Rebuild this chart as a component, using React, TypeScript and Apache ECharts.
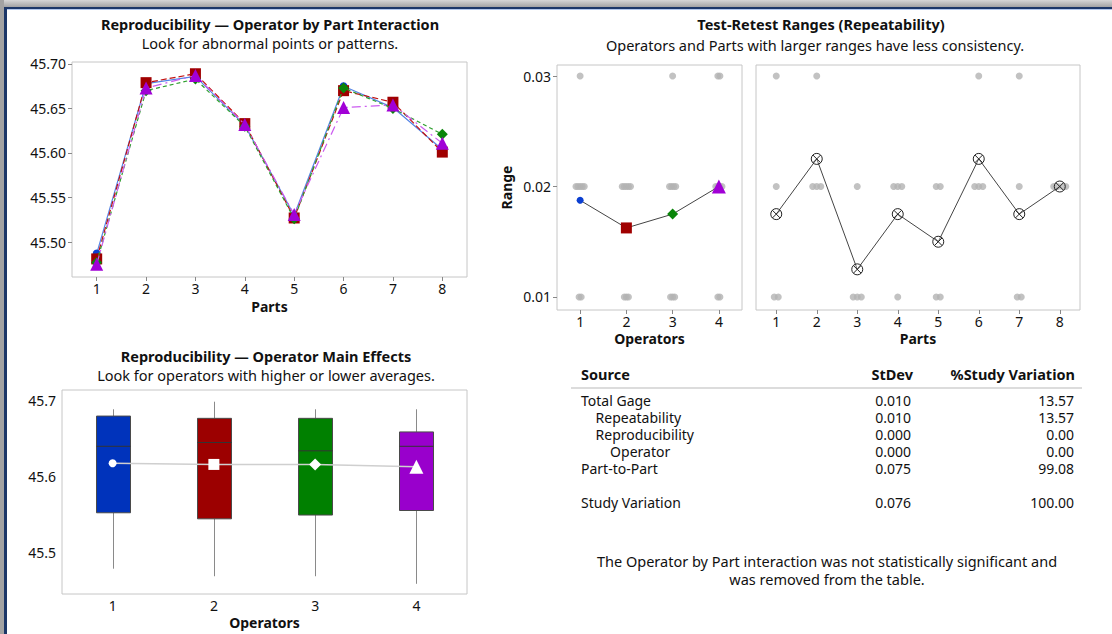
import React, { useEffect, useRef } from "react";
import * as echarts from "echarts";

// ---------- data ----------
const parts = [1, 2, 3, 4, 5, 6, 7, 8];
const operators = [1, 2, 3, 4];
const operatorLabels = ["1", "2", "3", "4"];

// Operator-by-part averages (interaction plot)
const op1PartMeans = [45.487, 45.678, 45.686, 45.631, 45.53, 45.675, 45.651, 45.604];
const op2PartMeans = [45.481, 45.679, 45.689, 45.633, 45.527, 45.67, 45.657, 45.601];
const op3PartMeans = [45.477, 45.67, 45.683, 45.63, 45.526, 45.673, 45.65, 45.621];
const op4PartMeans = [45.475, 45.673, 45.687, 45.632, 45.531, 45.651, 45.654, 45.611];

// Test-retest ranges, rows = operators, columns = parts
const op1Ranges = [0.01, 0.02, 0.01, 0.02, 0.02, 0.02, 0.03, 0.02];
const op2Ranges = [0.01, 0.02, 0.01, 0.02, 0.02, 0.02, 0.01, 0.02];
const op3Ranges = [0.03, 0.02, 0.01, 0.02, 0.01, 0.02, 0.01, 0.02];
const op4Ranges = [0.02, 0.03, 0.02, 0.01, 0.01, 0.03, 0.02, 0.02];
const operatorRangeMeans = [0.01875, 0.01625, 0.0175, 0.02];
const partRangeMeans = [0.0175, 0.0225, 0.0125, 0.0175, 0.015, 0.0225, 0.0175, 0.02];

// Operator main effects boxplots: [min, Q1, median, Q3, max]
const op1Box = [45.478, 45.552, 45.64, 45.68, 45.689];
const op2Box = [45.468, 45.544, 45.645, 45.677, 45.699];
const op3Box = [45.468, 45.549, 45.634, 45.677, 45.689];
const op4Box = [45.458, 45.555, 45.64, 45.659, 45.689];
const operatorMeans = [45.6175, 45.616, 45.616, 45.613];

// Tick labels
const interactionTicks = [45.5, 45.55, 45.6, 45.65, 45.7];
const rangeTicks = [0.01, 0.02, 0.03];
const boxTicks = [45.5, 45.6, 45.7];

// Variance components table ("" = blank spacer row)
const tableSources = ["Total Gage", "Repeatability", "Reproducibility", "Operator", "Part-to-Part", "", "Study Variation"];
const tableIndent = [0, 1, 1, 2, 0, 0, 0];
const tableStDev = ["0.010", "0.010", "0.000", "0.000", "0.075", "", "0.076"];
const tablePctStudy = ["13.57", "13.57", "0.00", "0.00", "99.08", "", "100.00"];
const footnote = ["The Operator by Part interaction was not statistically significant and", "was removed from the table."];

// ---------- styles ----------
const FONT = '"Noto Sans", "Open Sans", sans-serif';
const opColors = ["#0b3fd1", "#a00000", "#0a850a", "#a100d6"];
const opLineColors = ["#5585e6", "#c01010", "#2e9e2e", "#cc5cf0"];
const opSymbols = ["circle", "rect", "diamond", "triangle"];
const opSymbolSizes = [8, 11, 11, 13];
const opLineTypes: any[] = ["solid", [6, 3], [4, 3], [9, 4, 2, 4]];
const boxColors = ["#0033bb", "#9c0000", "#008000", "#9900cc"];
const GRAY_DOT = "#b3b3b3";
const XCIRCLE = "path://M10,0 A10,10 0 1,1 10,20 A10,10 0 1,1 10,0 Z M3,3 L17,17 M17,3 L3,17";
const NBSP = "\u00A0";

function jitter(groups: number[][], step: number) {
  const pts: number[][] = [];
  groups.forEach((vals, gi) => {
    const counts: Record<string, number> = {};
    vals.forEach((v) => (counts[v.toFixed(3)] = (counts[v.toFixed(3)] || 0) + 1));
    const seen: Record<string, number> = {};
    vals.forEach((v) => {
      const k = v.toFixed(3);
      const i = seen[k] || 0;
      seen[k] = i + 1;
      pts.push([gi + 1 + (i - (counts[k] - 1) / 2) * step, v]);
    });
  });
  return pts;
}

export default function App() {
  const ref = useRef<HTMLDivElement>(null);
  useEffect(() => {
    if (!ref.current) return;
    const chart = echarts.init(ref.current, null, { renderer: "svg" });
    const allOpMeans = [op1PartMeans, op2PartMeans, op3PartMeans, op4PartMeans];
    const rangeRows = [op1Ranges, op2Ranges, op3Ranges, op4Ranges];
    const byOperator = rangeRows;
    const byPart = parts.map((_, pi) => rangeRows.map((r) => r[pi]));
    const boxes = [op1Box, op2Box, op3Box, op4Box];

    const axisLabelBase = { fontSize: 14, color: "#111", fontFamily: FONT };
    const nameStyle = { fontSize: 14, fontWeight: "bold" as const, color: "#111", fontFamily: FONT };
    const tick = { length: 4, lineStyle: { color: "#888" } };
    const gridBase = { show: true, borderColor: "#c6c6c6", borderWidth: 1, backgroundColor: "#fff", containLabel: false };

    const text = (t: string, x: number, y: number, opts: any = {}) => ({
      type: "text",
      x,
      y,
      silent: true,
      style: {
        text: t,
        font: `${opts.bold ? "bold " : ""}${opts.size || 14.5}px ${FONT}`,
        fill: "#111",
        align: opts.align || "center",
        verticalAlign: opts.valign || "middle",
        lineHeight: opts.lh || 17,
      },
    });

    const ROW_H = 17;
    const firstRowY = 400;
    const tableTop = firstRowY - ROW_H / 2;
    const sourceCol = tableSources
      .map((s, i) => (s ? NBSP.repeat(tableIndent[i] * 4) + s : ""))
      .join("\n");

    const graphics: any[] = [
      { type: "rect", shape: { x: 0, y: 0, width: 1112, height: 7 }, style: { fill: new echarts.graphic.LinearGradient(0, 0, 0, 1, [{ offset: 0, color: "#d6d6d6" }, { offset: 1, color: "#a3a3a3" }]) }, silent: true },
      { type: "rect", shape: { x: 0, y: 7, width: 1112, height: 2 }, style: { fill: "#1c3768" }, silent: true },
      { type: "rect", shape: { x: 0, y: 9, width: 1112, height: 1 }, style: { fill: "#b3c8ec" }, silent: true },
      { type: "rect", shape: { x: 0, y: 0, width: 4, height: 634 }, style: { fill: "#a3a3a3" }, silent: true },
      { type: "rect", shape: { x: 4, y: 7, width: 3, height: 627 }, style: { fill: "#1c3768" }, silent: true },
      text("Reproducibility \u2014 Operator by Part Interaction", 270, 24, { bold: true, size: 14.5 }),
      text("Look for abnormal points or patterns.", 270, 43),
      text("Test-Retest Ranges (Repeatability)", 821, 24, { bold: true, size: 14.5 }),
      text("Operators and Parts with larger ranges have less consistency.", 815, 45),
      text("Reproducibility \u2014 Operator Main Effects", 266, 356, { bold: true, size: 14.5 }),
      text("Look for operators with higher or lower averages.", 266, 375),
      text("Source", 581, 374, { bold: true, align: "left", size: 14.5 }),
      text("StDev", 913, 374, { bold: true, align: "right", size: 14.5 }),
      text("%Study Variation", 1075, 374, { bold: true, align: "right", size: 14.5 }),
      { type: "line", shape: { x1: 571, y1: 388, x2: 1082, y2: 388 }, style: { stroke: "#d0d0d0", lineWidth: 1.5 }, silent: true },
      text(sourceCol, 581, tableTop, { align: "left", valign: "top", size: 14, lh: ROW_H }),
      text(tableStDev.join("\n"), 911, tableTop, { align: "right", valign: "top", size: 14, lh: ROW_H }),
      text(tablePctStudy.join("\n"), 1074, tableTop, { align: "right", valign: "top", size: 14, lh: ROW_H }),
      text(footnote.join("\n"), 827, 552, { valign: "top", size: 14.5, lh: 18 }),
    ];

    const series: any[] = [];
    allOpMeans.forEach((arr, oi) => {
      series.push({
        type: "line",
        xAxisIndex: 0,
        yAxisIndex: 0,
        data: parts.map((p, i) => [p, arr[i]]),
        symbol: opSymbols[oi],
        symbolSize: opSymbolSizes[oi],
        itemStyle: { color: opColors[oi] },
        lineStyle: { color: opLineColors[oi], width: 1.2, type: opLineTypes[oi] },
        z: 3 + oi,
        silent: true,
      });
    });
    series.push({
      type: "scatter",
      xAxisIndex: 1,
      yAxisIndex: 1,
      data: jitter(byOperator, 0.045),
      symbolSize: 7,
      itemStyle: { color: GRAY_DOT },
      z: 2,
      silent: true,
    });
    series.push({
      type: "line",
      xAxisIndex: 1,
      yAxisIndex: 1,
      data: operators.map((o, i) => ({
        value: [o, operatorRangeMeans[i]],
        symbol: opSymbols[i],
        symbolSize: [7, 11, 11, 14][i],
        itemStyle: { color: opColors[i] },
      })),
      lineStyle: { color: "#444", width: 1 },
      z: 4,
      silent: true,
    });
    series.push({
      type: "scatter",
      xAxisIndex: 2,
      yAxisIndex: 2,
      data: jitter(byPart, 0.1),
      symbolSize: 7,
      itemStyle: { color: GRAY_DOT },
      z: 2,
      silent: true,
    });
    series.push({
      type: "line",
      xAxisIndex: 2,
      yAxisIndex: 2,
      data: parts.map((p, i) => [p, partRangeMeans[i]]),
      symbol: XCIRCLE,
      symbolSize: 11,
      symbolKeepAspect: true,
      itemStyle: { color: "rgba(255,255,255,0.2)", borderColor: "#222", borderWidth: 1 },
      lineStyle: { color: "#444", width: 1 },
      z: 4,
      silent: true,
    });
    series.push({
      type: "custom",
      xAxisIndex: 3,
      yAxisIndex: 3,
      data: boxes.map((b, i) => [i, ...b]),
      encode: { x: 0, y: [1, 2, 3, 4, 5] },
      silent: true,
      z: 2,
      renderItem: (params: any, api: any) => {
        const x = api.value(0);
        const pMin = api.coord([x, api.value(1)]);
        const pQ1 = api.coord([x, api.value(2)]);
        const pMed = api.coord([x, api.value(3)]);
        const pQ3 = api.coord([x, api.value(4)]);
        const pMax = api.coord([x, api.value(5)]);
        const half = 17;
        const cx = Math.round(pMin[0]) + 0.5;
        return {
          type: "group",
          children: [
            { type: "line", shape: { x1: cx, y1: pMax[1], x2: cx, y2: pQ3[1] }, style: { stroke: "#8a8a8a", lineWidth: 1 } },
            { type: "line", shape: { x1: cx, y1: pQ1[1], x2: cx, y2: pMin[1] }, style: { stroke: "#8a8a8a", lineWidth: 1 } },
            {
              type: "rect",
              shape: { x: cx - half, y: pQ3[1], width: half * 2, height: pQ1[1] - pQ3[1] },
              style: { fill: boxColors[params.dataIndex], stroke: "#4a4a4a", lineWidth: 1 },
            },
            { type: "line", shape: { x1: cx - half, y1: pMed[1], x2: cx + half, y2: pMed[1] }, style: { stroke: "#333", lineWidth: 1 } },
          ],
        };
      },
    });
    series.push({
      type: "line",
      xAxisIndex: 3,
      yAxisIndex: 3,
      data: operatorMeans.map((m, i) => ({
        value: m,
        symbol: opSymbols[i],
        symbolSize: [8, 11, 12, 14][i],
      })),
      itemStyle: { color: "#fff" },
      lineStyle: { color: "#cfcfcf", width: 1.5 },
      z: 5,
      silent: true,
    });

    chart.setOption({
      animation: false,
      backgroundColor: "#fff",
      textStyle: { fontFamily: FONT },
      grid: [
        { ...gridBase, left: 72, top: 62, width: 395, height: 215 },
        { ...gridBase, left: 557, top: 65, width: 185, height: 245 },
        { ...gridBase, left: 756, top: 65, width: 324, height: 245 },
        { ...gridBase, left: 62, top: 390, width: 405, height: 204 },
      ],
      xAxis: [
        {
          gridIndex: 0, type: "value", min: 0.5, max: 8.5,
          axisLine: { show: false }, splitLine: { show: false },
          axisTick: { ...tick, customValues: parts }, axisLabel: { ...axisLabelBase, customValues: parts, margin: 4 },
          name: "Parts", nameLocation: "middle", nameGap: 22, nameTextStyle: nameStyle,
        },
        {
          gridIndex: 1, type: "value", min: 0.5, max: 4.5,
          axisLine: { show: false }, splitLine: { show: false },
          axisTick: { ...tick, customValues: operators }, axisLabel: { ...axisLabelBase, customValues: operators, margin: 4 },
          name: "Operators", nameLocation: "middle", nameGap: 21, nameTextStyle: nameStyle,
        },
        {
          gridIndex: 2, type: "value", min: 0.5, max: 8.5,
          axisLine: { show: false }, splitLine: { show: false },
          axisTick: { ...tick, customValues: parts }, axisLabel: { ...axisLabelBase, customValues: parts, margin: 4 },
          name: "Parts", nameLocation: "middle", nameGap: 21, nameTextStyle: nameStyle,
        },
        {
          gridIndex: 3, type: "category", data: operatorLabels, boundaryGap: true,
          axisLine: { show: false }, splitLine: { show: false },
          axisTick: { ...tick, alignWithLabel: true }, axisLabel: { ...axisLabelBase, margin: 4 },
          name: "Operators", nameLocation: "middle", nameGap: 21, nameTextStyle: nameStyle,
        },
      ],
      yAxis: [
        {
          gridIndex: 0, type: "value", min: 45.4607, max: 45.7022,
          axisLine: { show: false }, splitLine: { show: false },
          axisTick: { ...tick, customValues: interactionTicks },
          axisLabel: { ...axisLabelBase, customValues: interactionTicks, margin: 6, formatter: (v: number) => v.toFixed(2) },
        },
        {
          gridIndex: 1, type: "value", min: 0.00882, max: 0.031,
          axisLine: { show: false }, splitLine: { show: false },
          axisTick: { ...tick, customValues: rangeTicks },
          axisLabel: { ...axisLabelBase, customValues: rangeTicks, margin: 6, formatter: (v: number) => v.toFixed(2) },
          name: "Range", nameLocation: "middle", nameGap: 44, nameRotate: 90, nameTextStyle: nameStyle,
        },
        {
          gridIndex: 2, type: "value", min: 0.00882, max: 0.031,
          axisLine: { show: false }, splitLine: { show: false },
          axisTick: { show: false }, axisLabel: { show: false },
        },
        {
          gridIndex: 3, type: "value", min: 45.4445, max: 45.7145,
          axisLine: { show: false }, splitLine: { show: false },
          axisTick: { ...tick, customValues: boxTicks },
          axisLabel: { ...axisLabelBase, customValues: boxTicks, margin: 6, formatter: (v: number) => v.toFixed(1) },
        },
      ],
      series,
      graphic: { elements: graphics },
    });
    return () => chart.dispose();
  }, []);
  return <div ref={ref} style={{ position: "absolute", left: 0, top: 0, width: 1112, height: 634 }} />;
}
